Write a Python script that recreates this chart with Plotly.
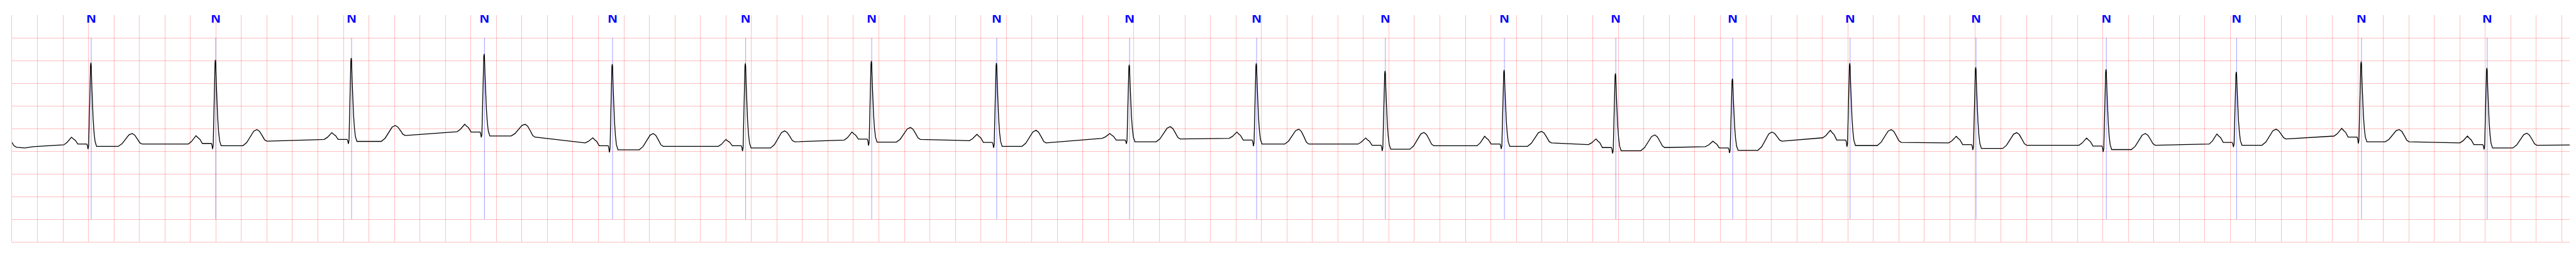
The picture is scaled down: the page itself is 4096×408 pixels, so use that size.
import numpy as np
import plotly.graph_objects as go

# ---------------- data ----------------
beat_time = [0.6217, 1.5985, 2.6638, 3.7063, 4.7111, 5.7549, 6.7435, 7.7245, 8.7661, 9.7625,
             10.7727, 11.7063, 12.5797, 13.4971, 14.4177, 15.4055, 16.4276, 17.4494, 18.4288, 19.4149]
beat_label = ["N", "N", "N", "N", "N", "N", "N", "N", "N", "N",
              "N", "N", "N", "N", "N", "N", "N", "N", "N", "N"]
r_amp = [1.449, 1.513, 1.556, 1.646, 1.419, 1.437, 1.487, 1.444, 1.404, 1.437,
         1.268, 1.290, 1.215, 1.101, 1.439, 1.348, 1.303, 1.247, 1.475, 1.336]
q_amp = [-0.452, -0.452, -0.338, -0.197, -0.525, -0.500, -0.376, -0.424, -0.338, -0.389,
         -0.495, -0.450, -0.550, -0.540, -0.400, -0.475, -0.515, -0.407, -0.330, -0.462]
p_amp = [-0.192, -0.159, -0.091, 0.093, -0.205, -0.242, -0.078, -0.129, -0.111, -0.078,
         -0.210, -0.172, -0.230, -0.280, -0.040, -0.172, -0.210, -0.121, 0.003, -0.167]
pre_level = [-0.360, -0.340, -0.242, -0.070, -0.318, -0.394, -0.255, -0.268, -0.217, -0.217,
             -0.343, -0.381, -0.356, -0.400, -0.205, -0.318, -0.369, -0.343, -0.167, -0.318]
pr_level = [-0.343, -0.330, -0.242, -0.078, -0.380, -0.380, -0.235, -0.306, -0.255, -0.255,
            -0.369, -0.343, -0.420, -0.430, -0.255, -0.356, -0.386, -0.306, -0.190, -0.356]
st_level = [-0.395, -0.380, -0.285, -0.165, -0.470, -0.430, -0.300, -0.394, -0.293, -0.343,
            -0.457, -0.394, -0.490, -0.480, -0.375, -0.440, -0.465, -0.369, -0.293, -0.430]
t_amp = [-0.111, -0.023, 0.066, 0.093, -0.111, -0.053, 0.023, -0.040, 0.040, -0.015,
         -0.086, -0.061, -0.141, -0.078, -0.023, -0.091, -0.111, -0.015, -0.023, -0.104]
t_delay = [0.321, 0.323, 0.343, 0.319, 0.319, 0.306, 0.304, 0.308, 0.319, 0.331,
           0.302, 0.291, 0.306, 0.308, 0.323, 0.319, 0.306, 0.309, 0.296, 0.311]
tp_level = [-0.343, -0.280, -0.154, -0.190, -0.394, -0.293, -0.242, -0.318, -0.230, -0.343,
            -0.381, -0.318, -0.420, -0.280, -0.306, -0.369, -0.369, -0.230, -0.293, -0.369]
lead_time = [0.0, 0.015, 0.037, 0.101, 0.166, 0.338]
lead_value = [-0.306, -0.380, -0.414, -0.430, -0.400, -0.370]
tail_time = [20.062]
tail_value = [-0.364]

# beat-shape template: (time offset, from-level, to-level, fraction)
P_SHAPE = [(-0.215, "pre", "p", 0.0), (-0.19, "pre", "p", 0.3), (-0.17, "pre", "p", 0.75),
           (-0.155, "pr", "p", 1.0), (-0.14, "pr", "p", 0.75), (-0.125, "pr", "p", 0.55),
           (-0.105, "pr", "p", 0.0), (-0.035, "pr", "q", 0.0), (-0.030, "pr", "q", 0.25),
           (-0.025, "q", "r", 0.0), (-0.020, "q", "r", 0.04), (-0.015, "q", "r", 0.40),
           (-0.010, "q", "r", 0.78), (-0.0055, "q", "r", 0.97), (-0.0027, "q", "r", 1.0),
           (0.000, "st", "r", 0.97), (0.004, "st", "r", 0.75), (0.010, "st", "r", 0.42),
           (0.015, "st", "r", 0.33), (0.022, "st", "r", 0.17), (0.030, "st", "r", 0.06),
           (0.042, "st", "r", 0.0)]
T_SHAPE = [(-0.11, "st", "t", 0.0), (-0.08, "st", "t", 0.2), (-0.05, "st", "t", 0.6),
           (-0.025, "st", "t", 0.9), (0.0, "tp", "t", 1.0), (0.02, "tp", "t", 0.85),
           (0.04, "tp", "t", 0.5), (0.06, "tp", "t", 0.12), (0.078, "tp", "t", 0.0)]

ecg_t = list(lead_time)
ecg_v = list(lead_value)
for i, tb in enumerate(beat_time):
    lv = {"pre": pre_level[i], "p": p_amp[i], "pr": pr_level[i], "q": q_amp[i],
          "r": r_amp[i], "st": st_level[i], "t": t_amp[i], "tp": tp_level[i]}
    for off, a, b, f in P_SHAPE:
        ecg_t.append(tb + off)
        ecg_v.append(lv[a] + f * (lv[b] - lv[a]))
    tpk = tb + t_delay[i]
    for off, a, b, f in T_SHAPE:
        ecg_t.append(tpk + off)
        ecg_v.append(lv[a] + f * (lv[b] - lv[a]))
ecg_t += tail_time
ecg_v += tail_value

# annotation marker lines
mark_x, mark_y = [], []
for tb in beat_time:
    mark_x += [tb, tb, None]
    mark_y += [-2.0, 2.0, None]

grid_col = "rgba(255,0,0,0.25)"

fig = go.Figure()
fig.add_trace(go.Scatter(x=mark_x, y=mark_y, mode="lines",
                         line=dict(color="rgba(0,0,255,0.55)", width=0.7),
                         hoverinfo="skip", showlegend=False))
fig.add_trace(go.Scatter(x=ecg_t, y=ecg_v, mode="lines",
                         line=dict(color="black", width=1.3),
                         showlegend=False))
fig.add_trace(go.Scatter(x=beat_time, y=[2.4] * len(beat_time), mode="text",
                         text=beat_label, textposition="middle center",
                         textfont=dict(family="Liberation Sans, Arial",
                                       size=21, color="blue", weight="bold"),
                         showlegend=False, hoverinfo="skip"))

x_ticks = [round(0.2 * k, 4) for k in range(1, 101)]
y_ticks = [-2.0, -1.5, -1.0, -0.5, 0.0, 0.5, 1.0, 1.5, 2.0]

fig.update_layout(
    width=4096, height=408,
    margin=dict(l=19, r=10, t=24, b=24),
    paper_bgcolor="white", plot_bgcolor="white",
    xaxis=dict(range=[0, 20.062], tickvals=x_ticks, showticklabels=False, ticks="",
               showgrid=True, gridcolor=grid_col, gridwidth=1.2, zeroline=False,
               showline=True, linecolor=grid_col, linewidth=1.2, mirror=False),
    yaxis=dict(range=[-2.5, 2.5], tickvals=y_ticks, showticklabels=False, ticks="",
               showgrid=True, gridcolor=grid_col, gridwidth=1.2, zeroline=False,
               showline=True, linecolor=grid_col, linewidth=1.2, mirror=False),
)

fig.write_html("out.html",
               config={"displayModeBar": False},
               post_script="document.body.style.margin='0';document.body.style.padding='0';"
                           "document.body.style.overflow='hidden';")
